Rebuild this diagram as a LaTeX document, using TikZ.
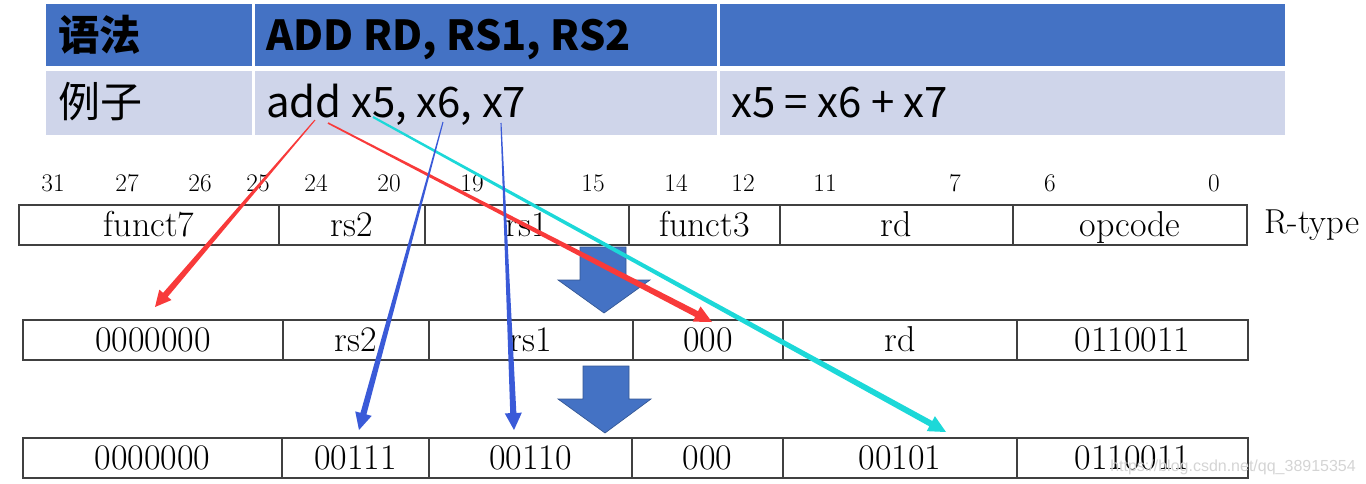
\documentclass[tikz,border=0pt]{standalone}
\usepackage{fontspec}
\usetikzlibrary{calc}
\newfontfamily\cjk{Noto Sans CJK SC}
\newfontfamily\wmfont{Liberation Sans}
\definecolor{hdrblue}{HTML}{4472C4}
\definecolor{rowlav}{HTML}{CFD5EA}
\definecolor{arred}{HTML}{F83A3A}
\definecolor{arcyan}{HTML}{1CD8D8}
\definecolor{arblue}{HTML}{3A5AD8}
\definecolor{boxgray}{HTML}{404040}
\definecolor{wmgray}{HTML}{D4D4D4}
\newcommand\fieldcell[7]{%
  \draw[fieldbox] (#2,#4) rectangle (#3,#5);
  \node[lbl] (#1) at ({(#2+#3)/2},#6) {#7};}
% #1 colour, #2 from, #3 to, #4 start half width, #5 end half width, #6 head length, #7 head half width
\newcommand\taperarrow[7]{%
  \path (#2) coordinate (tA) (#3) coordinate (tB);
  \coordinate (tH) at ($(tB)!#6!(tA)$);
  \fill[#1] ($(tA)!#4!90:(tB)$) -- ($(tH)!#5!-90:(tA)$) -- ($(tH)!#7!-90:(tA)$)
    -- (tB) -- ($(tH)!#7!90:(tA)$) -- ($(tH)!#5!90:(tA)$) -- ($(tA)!#4!-90:(tB)$) -- cycle;}
\begin{document}
\begin{tikzpicture}[x=0.75pt,y=-0.75pt,
  hdrtxt/.style={font=\cjk\bfseries\fontsize{31}{37}\selectfont, inner sep=0pt},
  rowtxt/.style={font=\cjk\fontsize{31.5}{37}\selectfont, inner sep=0pt},
  bitnum/.style={font=\fontsize{19}{21}\selectfont, anchor=base, inner sep=0pt},
  lbl/.style={font=\fontsize{27}{31}\selectfont, anchor=base, inner sep=0pt},
  fieldbox/.style={draw=boxgray, line width=1.2pt},
  blockarrow/.style={fill=hdrblue, draw=hdrblue!75!black, line width=0.5pt},
  divider/.style={white, line width=2pt}]
\useasboundingbox (0,0) rectangle (1366,483);
% top table
\fill[hdrblue] (46,4) rectangle (1285,66);
\fill[rowlav] (46,71) rectangle (1285,135);
\draw[divider] (253.5,4) -- (253.5,135);
\draw[divider] (718.5,4) -- (718.5,135);
\node[hdrtxt, anchor=base west] (syn) at (58,50) {语法};
\node[hdrtxt, anchor=base west] (synv) at (266,50) {ADD RD, RS1, RS2};
\node[rowtxt, anchor=base west] (ex) at (58,117) {例子};
\node[rowtxt, anchor=base west] (exv) at (266,117) {add x5, x6, x7};
\node[rowtxt, anchor=base west] (exm) at (731,117) {x5 = x6 + x7};
% bit numbers
\foreach \n/\x in {31/53,27/127,26/200,25/258,24/316,20/389,19/472,15/593,14/676,12/743,11/825,7/955,6/1050,0/1214}
  \node[bitnum] (b\n) at (\x,191) {\n};
% row 1
\fieldcell{fa1}{19}{279}{205}{245}{236}{funct7}
\fieldcell{fa2}{279}{425}{205}{245}{236}{rs2}
\fieldcell{fa3}{425}{629}{205}{245}{236}{rs1}
\fieldcell{fa4}{629}{780}{205}{245}{236}{funct3}
\fieldcell{fa5}{780}{1013}{205}{245}{236}{rd}
\fieldcell{fa6}{1013}{1247}{205}{245}{236}{opcode}
\node[lbl, font=\fontsize{26}{30}\selectfont, anchor=base west] (rtype) at (1264,233) {R-type};
% row 2
\fieldcell{fb1}{23}{283}{320}{360}{351}{0000000}
\fieldcell{fb2}{283}{429}{320}{360}{351}{rs2}
\fieldcell{fb3}{429}{633}{320}{360}{351}{rs1}
\fieldcell{fb4}{633}{783}{320}{360}{351}{000}
\fieldcell{fb5}{783}{1017}{320}{360}{351}{rd}
\fieldcell{fb6}{1017}{1248}{320}{360}{351}{0110011}
% row 3
\fieldcell{fc1}{23}{282}{438}{478}{469}{0000000}
\fieldcell{fc2}{282}{429}{438}{478}{469}{00111}
\fieldcell{fc3}{429}{632}{438}{478}{469}{00110}
\fieldcell{fc4}{632}{783}{438}{478}{469}{000}
\fieldcell{fc5}{783}{1017}{438}{478}{469}{00101}
\fieldcell{fc6}{1017}{1248}{438}{478}{469}{0110011}
% block arrows
\draw[blockarrow] (580,247) -- (626,247) -- (626,280) -- (650,280) -- (604,313) -- (558,280) -- (580,280) -- cycle;
\draw[blockarrow] (583,366) -- (629,366) -- (629,399) -- (651,399) -- (605,433) -- (558,399) -- (583,399) -- cycle;
% watermark
\node[font=\wmfont\fontsize{12}{14}\selectfont, text=wmgray, anchor=base west, inner sep=0pt] (wm) at (1110,471) {https://blog.csdn.net/qq\_38915354};
% connector end points
\coordinate (sR1) at (315,120);
\coordinate (sR2) at (328,123);
\coordinate (sC) at (373,117);
\coordinate (sB1) at (443,122);
\coordinate (sB2) at (501,123);
\coordinate (eR1) at (155,307);
\coordinate (eR2) at (712,322);
\coordinate (eC) at (946,432);
\coordinate (eB1) at (359,430);
\coordinate (eB2) at (514,430);
% tapered arrows
\taperarrow{arred}{sR1}{eR1}{0.4pt}{2.3pt}{12pt}{6pt}
\taperarrow{arred}{sR2}{eR2}{0.6pt}{2.4pt}{13pt}{6.4pt}
\taperarrow{arcyan}{sC}{eC}{0.8pt}{2.3pt}{13pt}{6.4pt}
\taperarrow{arblue}{sB1}{eB1}{0.4pt}{2.3pt}{12.75pt}{6.4pt}
\taperarrow{arblue}{sB2}{eB2}{0.4pt}{2.3pt}{12.75pt}{6.4pt}
\end{tikzpicture}
\end{document}
